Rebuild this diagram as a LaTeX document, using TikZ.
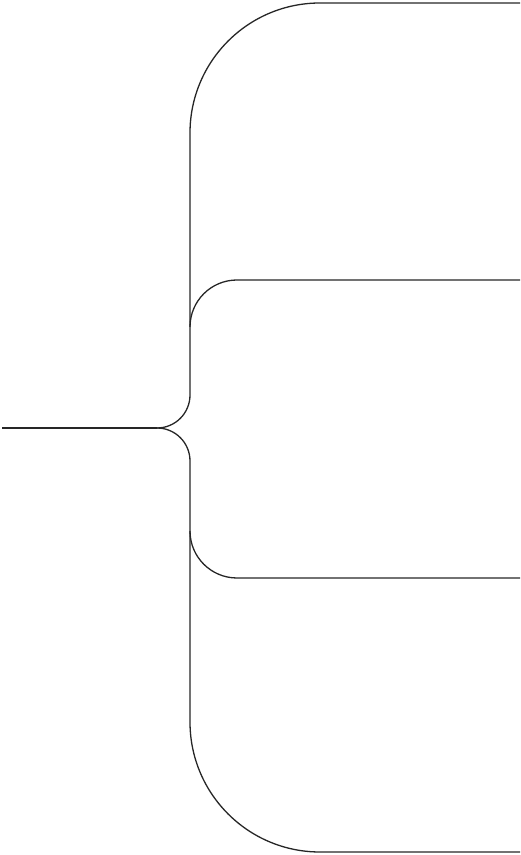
\documentclass[tikz,border=0pt]{standalone}
\usepackage{tikz}
\usetikzlibrary{arrows.meta,positioning}

\begin{document}
\begin{tikzpicture}[x=1pt, y=1pt, line width=1.3pt, draw=black!85]
\useasboundingbox (0,0) rectangle (520,855);

% Stem and junction
\coordinate (root) at (2,427);
\coordinate (hub) at (157,427);
\draw (root) -- (hub);

% Branch ends on the right edge
\coordinate (leafA) at (520,852);
\coordinate (leafB) at (520,575);
\coordinate (leafC) at (520,277);
\coordinate (leafD) at (520,3);

% Upper trunk with the outer and inner branch
\draw (hub) arc[start angle=270, end angle=360, radius=33]
  -- (190,722) arc[start angle=180, end angle=90, radius=130] -- (leafA);
\draw (190,528) arc[start angle=180, end angle=90, radius=47] -- (leafB);

% Lower trunk with the inner and outer branch
\draw (hub) arc[start angle=90, end angle=0, radius=33]
  -- (190,133) arc[start angle=180, end angle=270, radius=130] -- (leafD);
\draw (190,324) arc[start angle=180, end angle=270, radius=47] -- (leafC);
\end{tikzpicture}
\end{document}
